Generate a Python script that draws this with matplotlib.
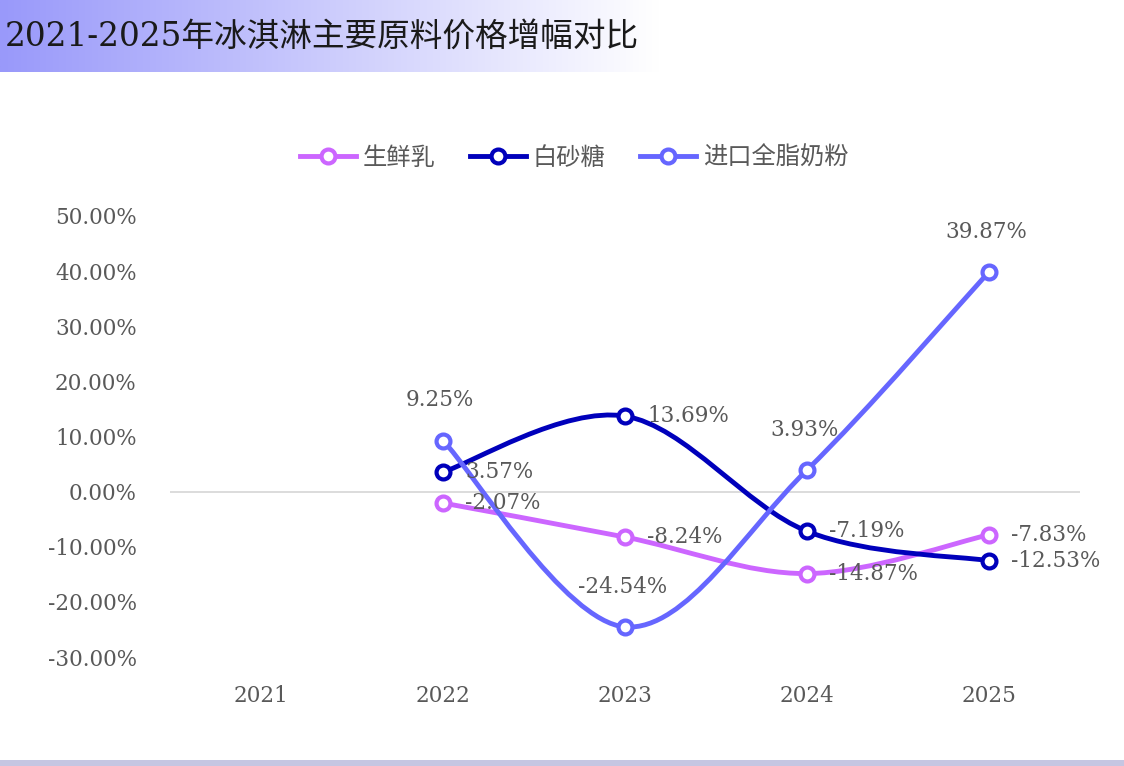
import numpy as np
import matplotlib
matplotlib.use("Agg")
import matplotlib.pyplot as plt
from matplotlib.path import Path
from matplotlib.patches import PathPatch, Rectangle
from matplotlib.lines import Line2D

plt.rcParams['font.family'] = ['DejaVu Serif', 'Noto Sans CJK SC', 'DejaVu Sans']

### data
years = ['2021', '2022', '2023', '2024', '2025']
milk = [None, -2.07, -8.24, -14.87, -7.83]        # 生鲜乳
sugar = [None, 3.57, 13.69, -7.19, -12.53]        # 白砂糖
powder = [None, 9.25, -24.54, 3.93, 39.87]        # 进口全脂奶粉

names = ['生鲜乳', '白砂糖', '进口全脂奶粉']
colors = ['#CC66FF', '#0000BB', '#6666FF']
# where each data label sits: 'r' right of the point, 't' above it
label_pos = [
    [None, 'r', 'r', 'r', 'r'],
    [None, 'r', 'r', 'r', 'r'],
    [None, 't', 't', 't', 't'],
]

TXT = '#595959'


def smooth_path(xs, ys):
    # excel style smoothed line: cubic bezier segments through the points
    pts = np.column_stack([xs, ys]).astype(float)
    verts = [pts[0]]
    codes = [Path.MOVETO]
    n = len(pts)
    for i in range(n - 1):
        p0 = pts[i - 1] if i > 0 else pts[i]
        p1 = pts[i]
        p2 = pts[i + 1]
        p3 = pts[i + 2] if i + 2 < n else pts[i + 1]
        c1 = p1 + (p2 - p0) / 6.0
        c2 = p2 - (p3 - p1) / 6.0
        verts += [c1, c2, p2]
        codes += [Path.CURVE4] * 3
    return Path(verts, codes)


fig = plt.figure(figsize=(11.24, 7.66), dpi=100)

# title band with gradient
bg = fig.add_axes([0, 1 - 72 / 766, 660 / 1124, 72 / 766])
grad = np.linspace(0, 1, 256)
start = np.array([153, 153, 250]) / 255.0
img = start[None, :] * (1 - grad[:, None]) + np.ones(3)[None, :] * grad[:, None]
bg.imshow(img[None, :, :], aspect='auto', extent=[0, 1, 0, 1])
bg.axis('off')
fig.text(5 / 1124, 1 - 37 / 766, '2021-2025年冰淇淋主要原料价格增幅对比',
         fontsize=23.5, color='#1a1a1a', va='center', ha='left')

# bottom strip
fig.patches.append(Rectangle((0, 0), 1, 6 / 766, transform=fig.transFigure,
                             facecolor='#C6C6E2', edgecolor='none'))

ax = fig.add_axes([170 / 1124, 1 - 657 / 766, 910 / 1124, 441 / 766])
x = np.arange(len(years))

for k, series in enumerate([milk, sugar, powder]):
    xs = [x[i] for i in range(len(series)) if series[i] is not None]
    ys = [series[i] / 100 for i in range(len(series)) if series[i] is not None]
    patch = PathPatch(smooth_path(xs, ys), facecolor='none', edgecolor=colors[k],
                      lw=3.5, capstyle='round', joinstyle='round', zorder=3)
    ax.add_patch(patch)
    ax.plot(xs, ys, ls='none', marker='o', ms=10, mfc='white', mec=colors[k],
            mew=3, zorder=4)
    for i, v in enumerate(series):
        if v is None:
            continue
        txt = '%.2f%%' % v
        if label_pos[k][i] == 'r':
            ax.annotate(txt, (x[i], v / 100), xytext=(16, 0), textcoords='offset points',
                        ha='left', va='center', fontsize=15.5, color=TXT, zorder=5)
        else:
            ax.annotate(txt, (x[i], v / 100), xytext=(-2, 29), textcoords='offset points',
                        ha='center', va='center', fontsize=15.5, color=TXT, zorder=5)

ax.axhline(0, color='#D9D9D9', lw=1.3, zorder=1)
ax.set_xlim(-0.5, 4.5)
ax.set_ylim(-0.30, 0.50)
ax.set_xticks(x)
ax.set_xticklabels(years)
yt = np.arange(-0.30, 0.51, 0.10)
ax.set_yticks(yt)
ax.set_yticklabels(['%.2f%%' % (v * 100 + 0.0) for v in yt])
ax.tick_params(axis='both', length=0, labelsize=15.5, labelcolor=TXT)
ax.tick_params(axis='x', pad=20)
ax.tick_params(axis='y', pad=24)
for s in ax.spines.values():
    s.set_visible(False)

handles = [Line2D([0], [0], color=c, lw=3.5, marker='o', ms=10, mfc='white',
                  mec=c, mew=3) for c in colors]
fig.legend(handles, names, loc='center', bbox_to_anchor=(574 / 1124, 1 - 158 / 766),
           ncol=3, frameon=False, labelcolor=TXT, handlelength=2.3,
           handletextpad=0.3, columnspacing=1.4,
           prop={'family': ['Noto Sans CJK SC'], 'size': 17.5})

fig.savefig('out.png', dpi=100)
